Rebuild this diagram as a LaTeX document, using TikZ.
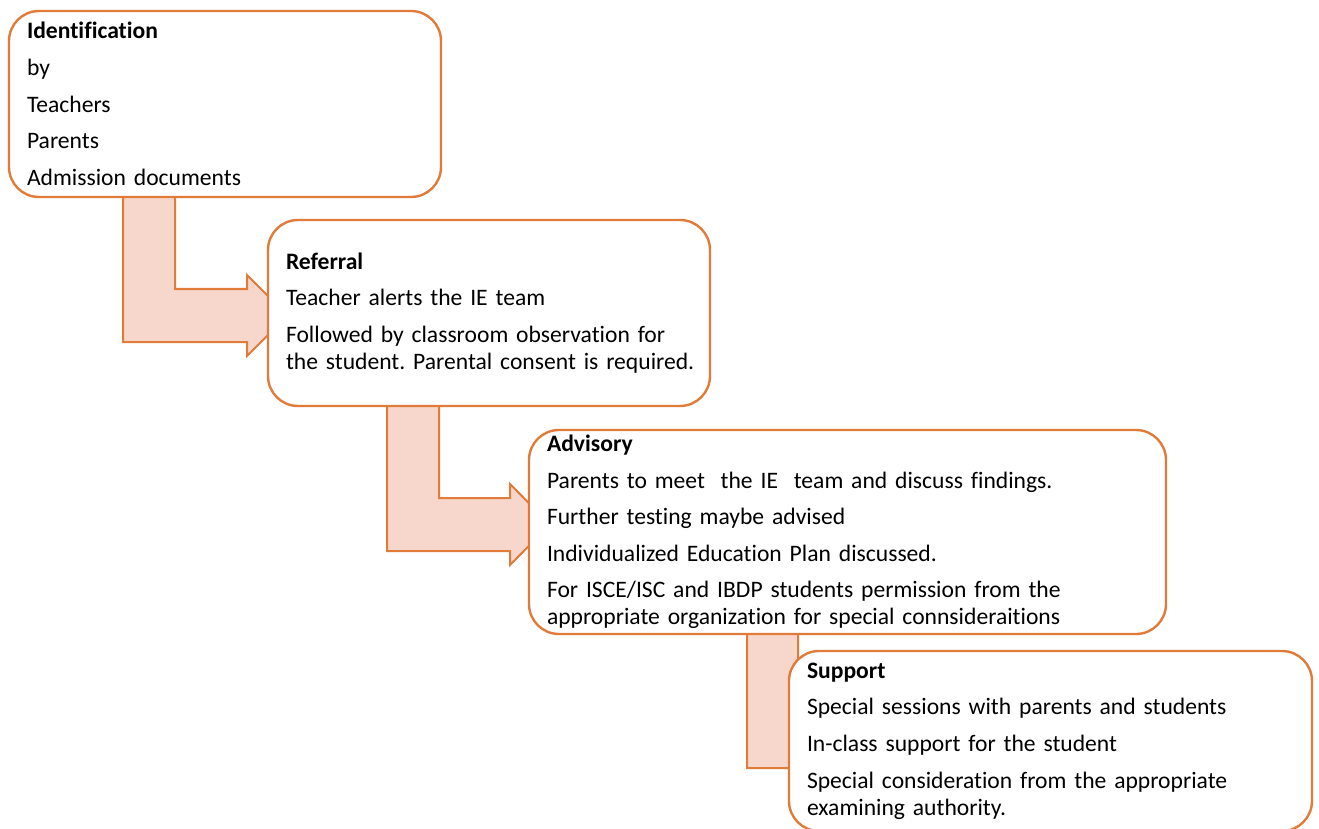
\documentclass[tikz,border=0pt]{standalone}
\usepackage{fontspec}
\setmainfont[RawFeature={-liga;-clig;-dlig}]{Carlito}
\usetikzlibrary{positioning}

\definecolor{orng}{HTML}{E07B3A}
\definecolor{salmon}{HTML}{F7D6CB}

\newcommand{\gap}{\\[4.8pt]}
\frenchspacing

\begin{document}
\begin{tikzpicture}[
  x=0.5pt, y=-0.5pt,
  font=\fontsize{11.8}{13.5}\selectfont,
  stage/.style={draw=orng, line width=1.2pt, fill=white, rounded corners=15pt,
                align=left, inner xsep=9pt, inner ysep=0pt},
  bentarr/.style={draw=orng, line width=1pt, fill=salmon, line join=miter}
]
\useasboundingbox (0,0) rectangle (1319,829);

% bent arrows, drawn first so the boxes sit on top
\draw[bentarr] (123,180) -- (123,342) -- (247,342) -- (247,356) -- (287.5,315.5)
  -- (247,275) -- (247,289) -- (175,289) -- (175,180) -- cycle;
\draw[bentarr] (387,390) -- (387,551) -- (510,551) -- (510,565) -- (550,524.5)
  -- (510,484) -- (510,498) -- (439,498) -- (439,390) -- cycle;
\draw[bentarr] (747,620) -- (747,768) -- (820,768) -- (820,782) -- (860,741.5)
  -- (820,701) -- (820,715) -- (798,715) -- (798,620) -- cycle;

% stages
\node[stage, minimum width=216pt, minimum height=93pt, text width=198pt]
  (ident) at (225,104)
  {\textbf{Identification}\gap by\gap Teachers\gap Parents\gap Admission documents};
\node[stage, minimum width=221pt, minimum height=93pt, text width=203pt]
  (referral) at (489,313)
  {\textbf{Referral}\gap Teacher alerts the IE team\gap
   \mbox{Followed by classroom observation for}\\
   \mbox{the student. Parental consent is required.}};
\node[stage, minimum width=318.5pt, minimum height=102pt, text width=300.5pt]
  (advisory) at (847.5,532)
  {\textbf{Advisory}\gap \mbox{Parents to meet\ \ the IE\ \ team and discuss findings.}\gap
   Further testing maybe advised\gap
   Individualized Education Plan discussed.\gap
   \mbox{For ISCE/ISC and IBDP students permission from the}\\
   \mbox{appropriate organization for special connsideraitions}};
\node[stage, minimum width=261.5pt, minimum height=90pt, text width=243.5pt]
  (support) at (1050.5,741)
  {\textbf{Support}\gap \mbox{Special sessions with parents and students}\gap
   In-class support for the student\gap
   \mbox{Special consideration from the appropriate}\\examining authority.};
\end{tikzpicture}
\end{document}
